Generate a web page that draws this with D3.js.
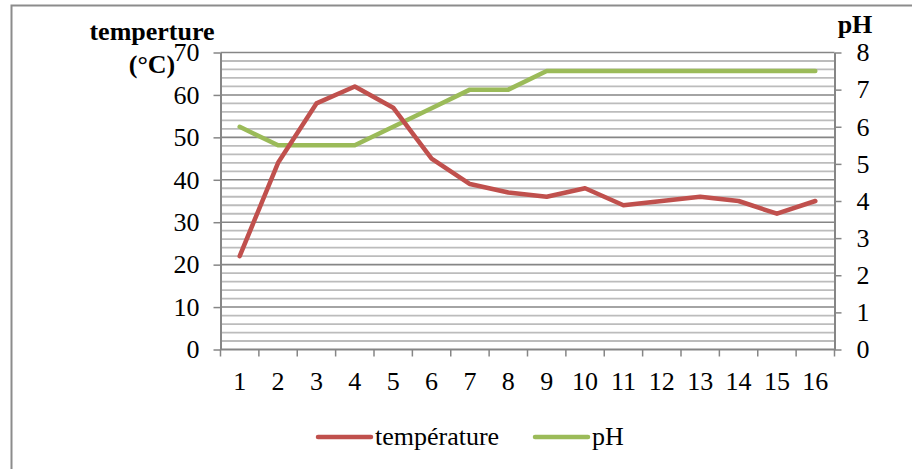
<!DOCTYPE html>
<html>
<head>
<meta charset="utf-8">
<script src="https://cdn.jsdelivr.net/npm/d3@7"></script>
<style>
  html, body { margin: 0; padding: 0; background: #fff; }
  svg { display: block; }
</style>
</head>
<body>
<div id="chart"></div>
<script>
// ---- data ----
const categories = ['1', '2', '3', '4', '5', '6', '7', '8', '9', '10', '11', '12', '13', '14', '15', '16']
const temperature = [22, 44, 58, 62, 57, 45, 39, 37, 36, 38, 34, 35, 36, 35, 32, 35]
const ph = [6, 5.5, 5.5, 5.5, 6, 6.5, 7, 7, 7.5, 7.5, 7.5, 7.5, 7.5, 7.5, 7.5, 7.5]
const tempTicks = [0, 10, 20, 30, 40, 50, 60, 70]
const phTicks = [0, 1, 2, 3, 4, 5, 6, 7, 8]
const seriesNames = ['température', 'pH']

const width = 912
const height = 469
const margin = { top: 52.5, right: 77.5, bottom: 120, left: 220.5 }
const font = '"Liberation Serif","Times New Roman",serif'
const axisColor = '#868686'
const red = '#C0504D'
const green = '#9BBB59'
const labelSize = '26px'

const svg = d3.select('#chart').append('svg')
  .attr('width', width)
  .attr('height', height)

// outer frame (only left and top edges show)
svg.append('rect')
  .attr('x', 11.5).attr('y', 5.5)
  .attr('width', 1000).attr('height', 1000)
  .attr('fill', 'none')
  .attr('stroke', '#8c8c8c')
  .attr('stroke-width', 2)

const x0 = margin.left
const x1 = width - margin.right
const y0 = height - margin.bottom + 0.5
const y1 = margin.top

const x = d3.scaleBand().domain(categories).range([x0, x1])
const yT = d3.scaleLinear().domain([0, 70]).range([y0, y1])
const yP = d3.scaleLinear().domain([0, 8]).range([y0, y1])

// gridlines: minor every 2, major every 10
const minor = d3.range(0, 71, 2).filter(v => v % 10 !== 0)
svg.append('g').selectAll('line')
  .data(minor)
  .join('line')
  .attr('x1', x0).attr('x2', x1)
  .attr('y1', d => yT(d)).attr('y2', d => yT(d))
  .attr('stroke', '#bcbcbc')
  .attr('stroke-width', 1.8)

svg.append('g').selectAll('line')
  .data(tempTicks.filter(v => v > 0))
  .join('line')
  .attr('x1', x0).attr('x2', x1)
  .attr('y1', d => yT(d)).attr('y2', d => yT(d))
  .attr('stroke', axisColor)
  .attr('stroke-width', 1.6)

function styleAxis(g) {
  g.select('.domain').attr('stroke', axisColor).attr('stroke-width', 2)
  g.selectAll('.tick line').attr('stroke', axisColor).attr('stroke-width', 1.5)
  g.selectAll('.tick text')
    .attr('fill', '#000')
    .attr('font-size', labelSize)
    .attr('font-family', font)
}

// left axis
svg.append('g')
  .attr('transform', `translate(${x0},0)`)
  .call(d3.axisLeft(yT).tickValues(tempTicks).tickSize(7).tickSizeOuter(0).tickPadding(14))
  .call(styleAxis)

// right axis
svg.append('g')
  .attr('transform', `translate(${x1},0)`)
  .call(d3.axisRight(yP).tickValues(phTicks).tickSize(7).tickSizeOuter(0).tickPadding(15))
  .call(styleAxis)

// bottom axis: labels centred on categories, ticks between them
svg.append('g')
  .attr('transform', `translate(0,${y0})`)
  .call(d3.axisBottom(x).tickSize(0).tickPadding(22))
  .call(styleAxis)
  .call(g => g.select('.domain').remove())

svg.append('line')
  .attr('x1', x0).attr('x2', x1)
  .attr('y1', y0).attr('y2', y0)
  .attr('stroke', axisColor).attr('stroke-width', 2)

svg.append('g').selectAll('line')
  .data(d3.range(categories.length + 1))
  .join('line')
  .attr('x1', i => x0 + i * x.bandwidth())
  .attr('x2', i => x0 + i * x.bandwidth())
  .attr('y1', y0).attr('y2', y0 + 7)
  .attr('stroke', axisColor).attr('stroke-width', 1.5)

// axis titles
svg.append('text')
  .attr('x', 152).attr('y', 40)
  .attr('text-anchor', 'middle')
  .attr('font-family', font).attr('font-weight', 'bold').attr('font-size', '26px')
  .text('temperture')
svg.append('text')
  .attr('x', 152).attr('y', 73)
  .attr('text-anchor', 'middle')
  .attr('font-family', font).attr('font-weight', 'bold').attr('font-size', '26px')
  .text('(°C)')
svg.append('text')
  .attr('x', 855).attr('y', 33)
  .attr('text-anchor', 'middle')
  .attr('font-family', font).attr('font-weight', 'bold').attr('font-size', '26px')
  .text('pH')

// lines
const cx = d => x(d) + x.bandwidth() / 2

const lineT = d3.line().x((d, i) => cx(categories[i])).y(d => yT(d))
const lineP = d3.line().x((d, i) => cx(categories[i])).y(d => yP(d))

svg.append('path')
  .attr('d', lineP(ph))
  .attr('fill', 'none')
  .attr('stroke', green)
  .attr('stroke-width', 4.5)
  .attr('stroke-linejoin', 'round')
  .attr('stroke-linecap', 'round')

svg.append('path')
  .attr('d', lineT(temperature))
  .attr('fill', 'none')
  .attr('stroke', red)
  .attr('stroke-width', 4.5)
  .attr('stroke-linejoin', 'round')
  .attr('stroke-linecap', 'round')

// legend
const legend = [
  { name: seriesNames[0], color: red, x: 318 },
  { name: seriesNames[1], color: green, x: 535 }
]
const lg = svg.append('g')
legend.forEach(l => {
  lg.append('line')
    .attr('x1', l.x).attr('x2', l.x + 53)
    .attr('y1', 437).attr('y2', 437)
    .attr('stroke', l.color).attr('stroke-width', 4.5)
    .attr('stroke-linecap', 'round')
  lg.append('text')
    .attr('x', l.x + 57).attr('y', 445)
    .attr('font-family', font).attr('font-size', labelSize)
    .text(l.name)
})
</script>
</body>
</html>
